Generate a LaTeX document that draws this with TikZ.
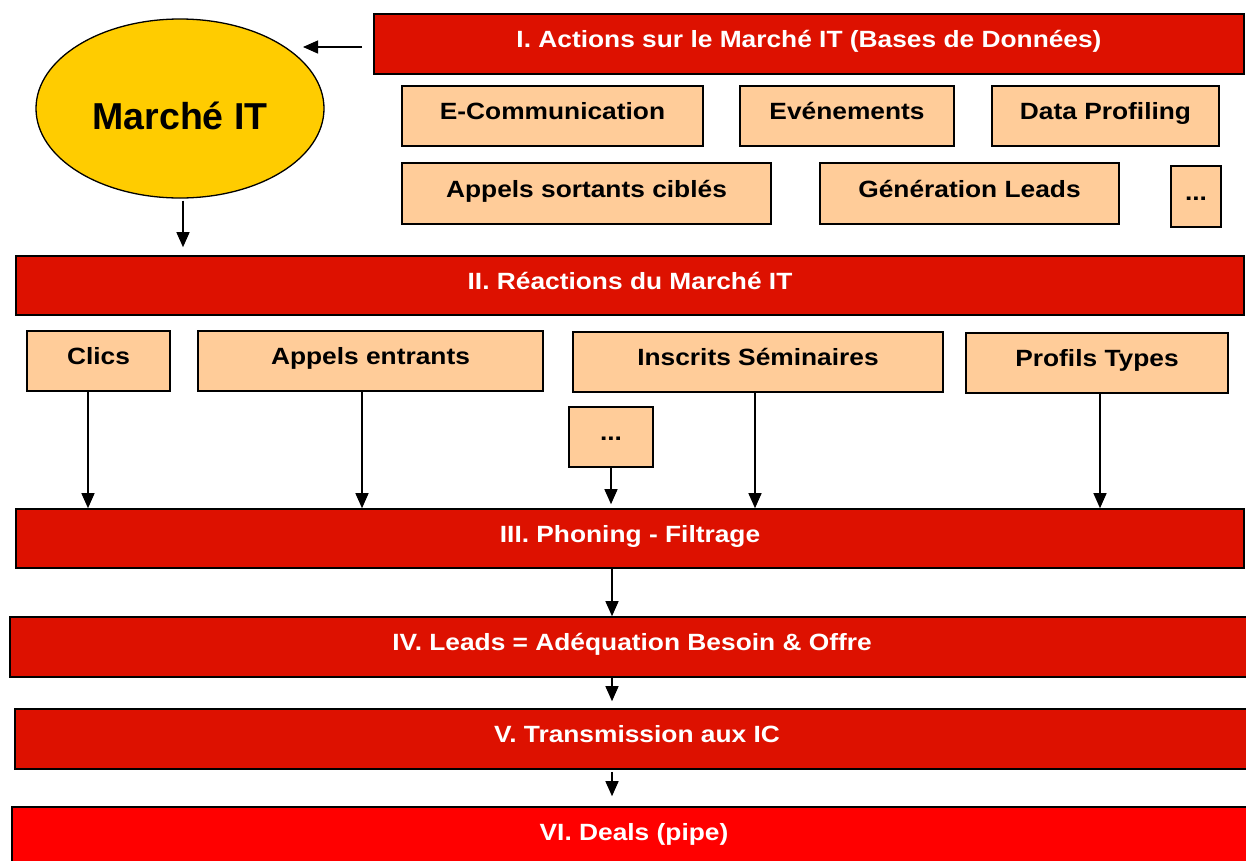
\documentclass[tikz,border=0pt]{standalone}
\usepackage{fontspec}
\setmainfont{Liberation Sans}
\newfontfamily\boxfont[FakeStretch=1.12]{Liberation Sans}
\usetikzlibrary{arrows.meta,shapes.geometric}
\definecolor{barred}{RGB}{221,17,0}
\definecolor{dealred}{RGB}{255,0,0}
\definecolor{peach}{RGB}{255,204,153}
\definecolor{gold}{RGB}{255,204,0}
\tikzset{
  boxbase/.style={draw=black, line width=1.6pt, rectangle, inner sep=0pt,
    font=\boxfont\bfseries\fontsize{23.5}{28}\selectfont,
    text height=16pt, text depth=8.5pt},
  bar/.style={boxbase, fill=barred, text=white},
  dealbar/.style={boxbase, fill=dealred, text=white},
  item/.style={boxbase, fill=peach, text=black},
  arr/.style={-{Triangle[length=15pt,width=13pt]}, line width=1.3pt}
}
\begin{document}
\begin{tikzpicture}[x=1pt,y=-1pt]
\useasboundingbox (0,0) rectangle (1246,860);
\clip (0,0) rectangle (1246,860);
\fill[white] (0,0) rectangle (1246,860);

% Market ellipse
\node[ellipse, draw=black, line width=1.3pt, fill=gold, inner sep=0pt,
      minimum width=288pt, minimum height=179pt,
      font=\bfseries\fontsize{37.5}{40}\selectfont, text height=42pt, text depth=0.5pt]
      (mkt) at (180,108.5) {Marché IT};

% I
\node[bar, minimum width=870pt, minimum height=60pt] (act) at (809,44) {I. Actions sur le Marché IT (Bases de Données)};
\node[item, minimum width=301pt, minimum height=60pt] (ecom) at (552.5,116) {E-Communication};
\node[item, minimum width=214pt, minimum height=60pt] (even) at (847,116) {Evénements};
\node[item, minimum width=227pt, minimum height=60pt] (data) at (1105.5,116) {Data Profiling};
\node[item, minimum width=369pt, minimum height=61pt] (apps) at (586.5,193.5) {Appels sortants ciblés};
\node[item, minimum width=299pt, minimum height=61pt] (gen) at (969.5,193.5) {Génération Leads};
\node[item, minimum width=50pt, minimum height=61pt] (dotsa) at (1196,196.5) {...};

% II
\node[bar, minimum width=1228pt, minimum height=59pt] (react) at (630,285.5) {II. Réactions du Marché IT};
\node[item, minimum width=143pt, minimum height=60pt] (clics) at (98.5,361) {Clics};
\node[item, minimum width=345pt, minimum height=60pt] (appe) at (370.5,361) {Appels entrants};
\node[item, minimum width=370pt, minimum height=60pt] (insc) at (758,362) {Inscrits Séminaires};
\node[item, minimum width=262pt, minimum height=60pt] (prof) at (1097,363) {Profils Types};
\node[item, minimum width=84pt, minimum height=60pt] (dotsb) at (611,437) {...};

% III - VI
\node[bar, minimum width=1228pt, minimum height=59pt] (filt) at (630,538.5) {III. Phoning - Filtrage};
\node[bar, minimum width=1244pt, minimum height=60pt] (leads) at (632,647) {IV. Leads = Adéquation Besoin \& Offre};
\node[bar, minimum width=1244pt, minimum height=60pt] (trans) at (637,739) {V. Transmission aux IC};
\node[dealbar, minimum width=1244pt, minimum height=60pt] (deals) at (634,837) {VI. Deals (pipe)};

% connectors
\coordinate (atip) at (303,47);
\draw[arr] ([xshift=-11pt,yshift=-3pt]act.west) -- (atip);
\draw[arr, shorten <=2pt, shorten >=8pt] ([xshift=3pt]mkt.south) -- ([xshift=3pt]mkt.south |- react.north);

\draw[arr] ([xshift=-10.5pt]clics.south) -- ([xshift=-10.5pt]clics.south |- filt.north);
\draw[arr] ([xshift=-8.5pt]appe.south) -- ([xshift=-8.5pt]appe.south |- filt.north);
\draw[arr, shorten >=4pt] (dotsb.south) -- (dotsb.south |- filt.north);
\draw[arr] ([xshift=-3pt]insc.south) -- ([xshift=-3pt]insc.south |- filt.north);
\draw[arr] ([xshift=3pt]prof.south) -- ([xshift=3pt]prof.south |- filt.north);

\coordinate (cx) at (612,0);
\draw[arr] (cx |- filt.south) -- (cx |- leads.north);
\draw[arr, shorten >=7pt] (cx |- leads.south) -- (cx |- trans.north);
\draw[arr, shorten <=2pt, shorten >=10pt] (cx |- trans.south) -- (cx |- deals.north);
\end{tikzpicture}
\end{document}
